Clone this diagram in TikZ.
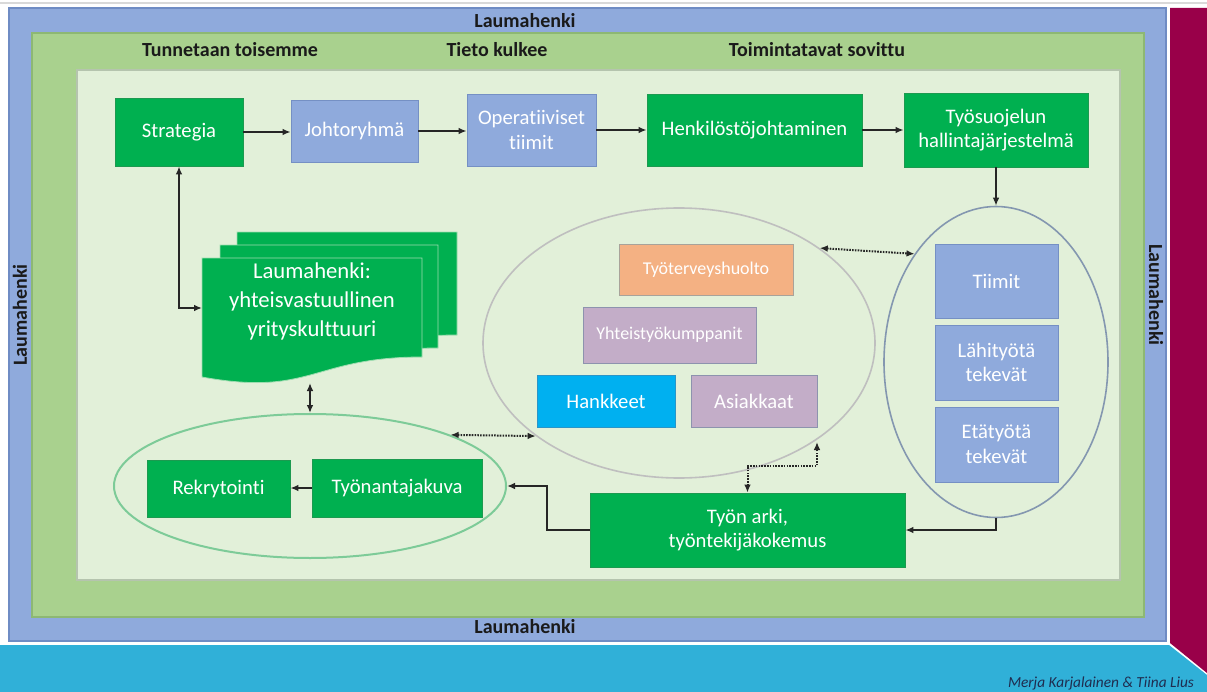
\documentclass[tikz,border=0pt]{standalone}
\usepackage{fontspec}
\setmainfont{Carlito}[Ligatures={NoCommon}]
\usetikzlibrary{arrows.meta,shapes.geometric,calc}
\definecolor{frameblue}{HTML}{8FAADC}
\definecolor{frameblueedge}{HTML}{6F8CC4}
\definecolor{framegreen}{HTML}{A9D18E}
\definecolor{framegreenedge}{HTML}{8DB873}
\definecolor{pale}{HTML}{E2F0D9}
\definecolor{paleedge}{HTML}{B5C4AE}
\definecolor{boxgreen}{HTML}{00B050}
\definecolor{boxgreenedge}{HTML}{1C9A50}
\definecolor{boxblue}{HTML}{8FAADC}
\definecolor{boxblueedge}{HTML}{7590C4}
\definecolor{orangebox}{HTML}{F4B183}
\definecolor{orangeedge}{HTML}{A8A39A}
\definecolor{mauve}{HTML}{C3ADC8}
\definecolor{mauveedge}{HTML}{8D93AE}
\definecolor{skyblue}{HTML}{00B0F0}
\definecolor{skyedge}{HTML}{2A95C8}
\definecolor{magenta}{HTML}{990049}
\definecolor{cyanband}{HTML}{30B0D8}
\definecolor{linec}{HTML}{262626}
\definecolor{labelc}{HTML}{1A1A1A}
\definecolor{credit}{HTML}{1F2D50}
\definecolor{ellgray}{HTML}{BFBFBF}
\definecolor{ellblue}{HTML}{8497B0}
\definecolor{ellgreen}{HTML}{7DCB98}
\begin{document}
\begin{tikzpicture}[x=0.75pt,y=-0.75pt,
  box/.style={rectangle, inner sep=0pt, align=center, text=white, line width=0.6pt},
  gbox/.style={box, fill=boxgreen, draw=boxgreenedge},
  bbox/.style={box, fill=boxblue, draw=boxblueedge},
  sz/.style 2 args={minimum width=#1*0.75pt, minimum height=#2*0.75pt},
  ft/.style={font=\fontsize{15.5}{18.5}\selectfont},
  fts/.style={font=\fontsize{13.5}{16}\selectfont},
  lbl/.style={font=\bfseries\fontsize{15}{18}\selectfont, text=labelc, inner sep=0pt},
  arr/.style={line width=1.5pt, draw=linec, -{Latex[length=6pt,width=5pt]}},
  darr/.style={line width=1.5pt, draw=linec, {Latex[length=6pt,width=5pt]}-{Latex[length=6pt,width=5pt]}},
  dotarr/.style={darr, dash pattern=on 1.2pt off 0.9pt},
  ell/.style={ellipse, inner sep=0pt, line width=1.2pt},
  sheet/.style={fill=boxgreen, draw=pale!70!boxgreen, line width=0.6pt}
]
\useasboundingbox (0,0) rectangle (1207,692);
\fill[white] (0,0) rectangle (1207,692);
\draw[black!15, line width=0.8pt] (0,3) -- (1207,3);
% frames
\fill[magenta] (1170,8) -- (1207,8) -- (1207,673) -- (1170,643) -- cycle;
\fill[cyanband] (0,645) -- (1169,645) -- (1207,675) -- (1207,692) -- (0,692) -- cycle;
\filldraw[fill=frameblue, draw=frameblueedge, line width=0.8pt] (9,8) rectangle (1166,641);
\filldraw[fill=framegreen, draw=framegreenedge, line width=0.8pt] (32,33) rectangle (1144,617);
\filldraw[fill=pale, draw=paleedge, line width=0.8pt] (77,70) rectangle (1120,580);
% frame labels
\node[lbl] (ltop) at (525,21) {Laumahenki};
\node[lbl] (lbot) at (525,627) {Laumahenki};
\node[lbl, rotate=90] (lleft) at (20,315) {Laumahenki};
\node[lbl, rotate=-90] (lright) at (1156,295) {Laumahenki};
\node[lbl] (know) at (230,50) {Tunnetaan toisemme};
\node[lbl] (info) at (497,50) {Tieto kulkee};
\node[lbl] (ways) at (817,50) {Toimintatavat sovittu};
\node[font=\itshape\fontsize{11.5}{13}\selectfont, text=credit, inner sep=0pt] (cred) at (1101,683) {Merja Karjalainen \& Tiina Lius};
% ellipses
\node[ell, draw=ellblue, sz={224}{311}] (rell) at (996,362) {};
\node[ell, draw=ellgray, sz={392}{270}] (cell) at (679,343) {};
\node[ell, draw=ellgreen, line width=1.5pt, sz={392}{144}] (lell) at (310,486) {};
% top row
\node[gbox, ft, sz={128}{68}] (strat) at (179,132) {Strategia};
\node[bbox, ft, sz={127}{62}] (johto) at (354.5,131) {Johtoryhmä};
\node[bbox, ft, sz={129}{72}] (oper) at (531.5,130) {Operatiiviset\\tiimit};
\node[gbox, ft, sz={215}{72}] (henk) at (754.5,130) {Henkilöstöjohtaminen};
\node[gbox, ft, sz={184}{74}] (tyosu) at (996,130) {Työsuojelun\\hallintajärjestelmä};
% right column
\node[bbox, ft, sz={123}{74}] (tiimit) at (996.5,281) {Tiimit};
\node[bbox, ft, sz={123}{75}] (lahi) at (996.5,362.5) {Lähityötä\\tekevät};
\node[bbox, ft, sz={123}{75}] (eta) at (996.5,444.5) {Etätyötä\\tekevät};
% centre
\node[box, fts, fill=orangebox, draw=orangeedge, sz={174}{51}] (tth) at (706,269.5) {Työterveyshuolto};
\node[box, fts, fill=mauve, draw=mauveedge, sz={173}{56}] (yht) at (669.5,335) {Yhteistyökumppanit};
\node[box, ft, fill=skyblue, draw=skyedge, sz={138}{52}] (hank) at (606,401) {Hankkeet};
\node[box, ft, fill=mauve, draw=mauveedge, sz={126}{52}] (asiak) at (754,401) {Asiakkaat};
% bottom
\node[gbox, ft, sz={315}{74}] (tyon) at (747.5,530) {Työn arki,\\työntekijäkokemus};
\node[gbox, ft, sz={143}{57}] (rekry) at (218.5,488.5) {Rekrytointi};
\node[gbox, ft, sz={170}{58}] (tyonan) at (397,488) {Työnantajakuva};
% multi-document
\filldraw[sheet] (237,232) -- (457,232) -- (457,335) .. controls (347,335) and (347,375) .. (237,355) -- cycle;
\filldraw[sheet] (220,245) -- (438,245) -- (438,348) .. controls (329,348) and (329,388) .. (220,368) -- cycle;
\filldraw[sheet] (202,258) -- (422,258) -- (422,357) .. controls (312,357) and (312,397) .. (202,377) -- cycle;
\node[align=center, text=white, font=\fontsize{17}{21.75}\selectfont, inner sep=0pt] (doctext) at (312,301) {Laumahenki:\\yhteisvastuullinen\\yrityskulttuuri};
\coordinate (docl) at (202,308);
\coordinate (docb) at (310,383);
% connectors
\draw[arr] (strat.east) -- (strat.east -| johto.west);
\draw[arr] (johto.east) -- (johto.east -| oper.west);
\draw[arr] (oper.east) -- (oper.east -| henk.west);
\draw[arr] (henk.east) -- (henk.east -| tyosu.west);
\draw[arr] (tyosu.south) -- (rell.north);
\draw[arr] (rell.south) |- (tyon.east);
\draw[arr] (tyon.west) -- ++(-43,0) |- (lell.east);
\draw[arr] (tyonan.west) -- (tyonan.west -| rekry.east);
\draw[darr] (strat.south) |- (docl);
\draw[darr] (docb) -- (lell.north);
\draw[dotarr] (cell.34) -- (rell.127);
\draw[dotarr] (lell.20) -- (cell.213);
\coordinate (cellb) at (817,442);
\draw[dotarr] (tyon.north) -- ++(0,-27) -| (cellb);
\end{tikzpicture}
\end{document}
